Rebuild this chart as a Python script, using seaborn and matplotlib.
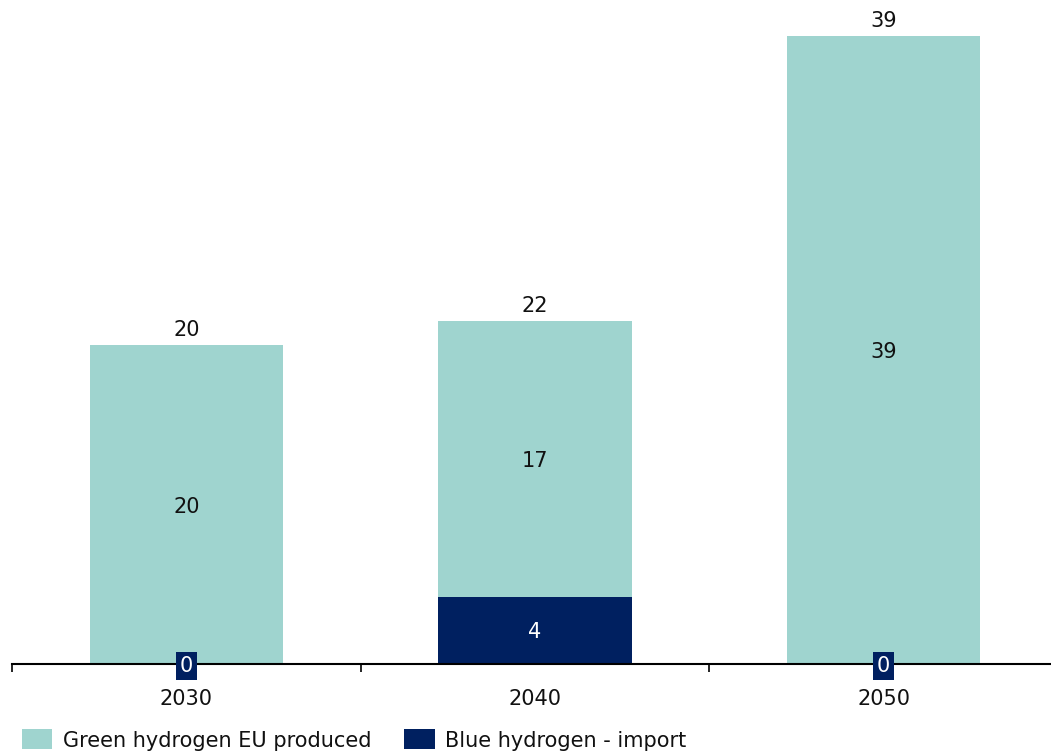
import numpy as np
import pandas as pd
import matplotlib
matplotlib.use("Agg")
import matplotlib.pyplot as plt
import seaborn as sns
from matplotlib.patches import Patch

# data
years = ["2030", "2040", "2050"]
green = [19.9, 17.2, 39.2]
blue = [0.0, 4.2, 0.0]
green_labels = ["20", "17", "39"]
blue_labels = ["0", "4", "0"]
total_labels = ["20", "22", "39"]

GREEN = "#9fd4cf"
NAVY = "#002060"

sns.set_theme(style="white")
plt.rcParams['font.family'] = ['DejaVu Sans']

df = pd.DataFrame({"year": years, "green": green, "blue": blue})
df["total"] = df["green"] + df["blue"]

fig = plt.figure(figsize=(10.51, 7.55), dpi=100)
ax = fig.add_axes([12 / 1051, 91 / 755, 1046 / 1051, 664 / 755])

sns.barplot(data=df, x="year", y="total", color=GREEN, width=0.555,
            saturation=1, linewidth=0, ax=ax)
sns.barplot(data=df, x="year", y="blue", color=NAVY, width=0.555,
            saturation=1, linewidth=0, ax=ax)

ax.set_xlim(-0.5, 2.5)
ax.set_ylim(0, 41.45)
ax.set_xlabel("")
ax.set_ylabel("")
ax.set_yticks([])
for s in ["top", "left", "right"]:
    ax.spines[s].set_visible(False)
ax.spines["bottom"].set_color("black")
ax.spines["bottom"].set_linewidth(1.5)

fs = 15
ax.set_xticks(range(len(years)))
ax.set_xticklabels(years, fontsize=fs, color="#111111")
ax.tick_params(axis="x", which="major", length=0, pad=18)
ax.set_xticks([-0.5, 0.5, 1.5, 2.5], minor=True)
ax.tick_params(axis="x", which="minor", bottom=True, direction="out",
               length=6, width=1.2, color="black")

for i in range(len(years)):
    b = df["blue"][i]
    t = df["total"][i]
    # blue segment labels
    if b > 0:
        ax.text(i, b / 2, blue_labels[i], ha="center", va="center_baseline",
                fontsize=fs, color="white")
    else:
        ax.text(i, 0, blue_labels[i], ha="center", va="center_baseline",
                fontsize=fs, color="white", zorder=5,
                bbox=dict(boxstyle="square,pad=0.2", fc=NAVY, ec="none"))
    # green segment labels
    ax.text(i, b + df["green"][i] / 2, green_labels[i], ha="center",
            va="center_baseline", fontsize=fs, color="#111111")
    # totals
    ax.text(i, t + 0.3, total_labels[i], ha="center", va="bottom",
            fontsize=fs, color="#111111")

handles = [Patch(facecolor=GREEN, edgecolor="none", label="Green hydrogen EU produced"),
           Patch(facecolor=NAVY, edgecolor="none", label="Blue hydrogen - import")]
fig.legend(handles=handles, loc="center left", bbox_to_anchor=(22 / 1051, 15 / 755),
           ncol=2, frameon=False, fontsize=fs, handlelength=1.45,
           handleheight=1.1, handletextpad=0.5, columnspacing=1.6,
           borderaxespad=0, borderpad=0, labelcolor="#111111")

fig.savefig("out.png", dpi=100)
